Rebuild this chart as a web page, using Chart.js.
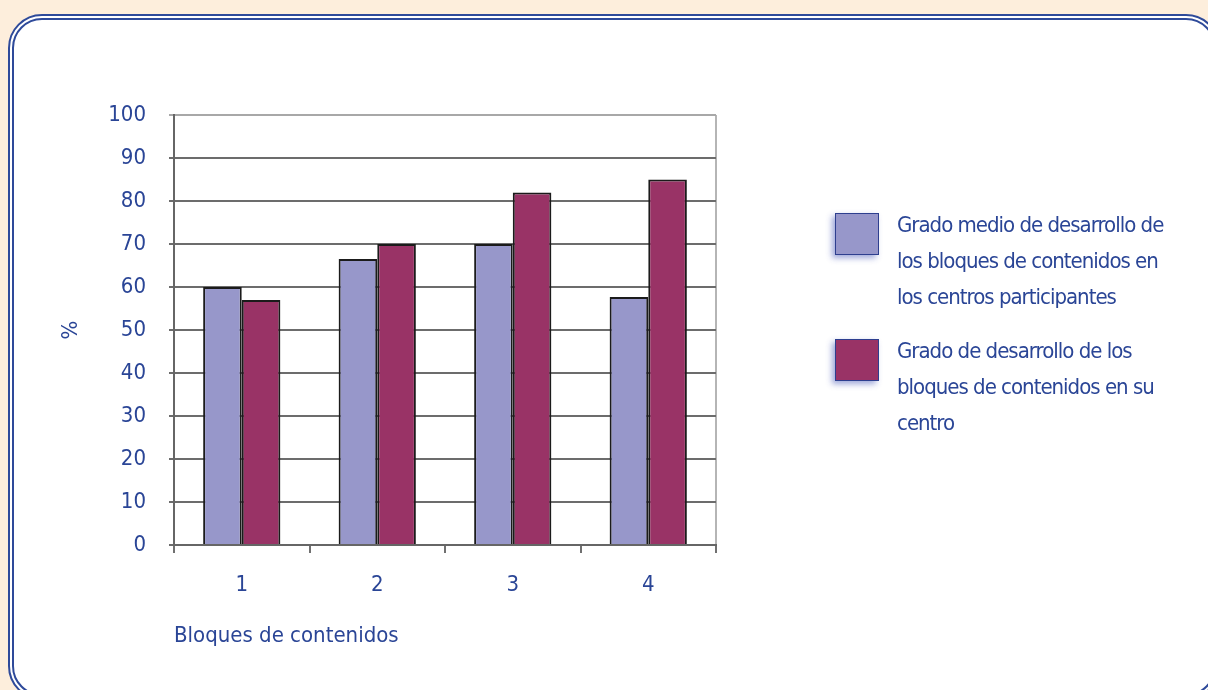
<!DOCTYPE html>
<html>
<head>
<meta charset="utf-8">
<script src="https://cdn.jsdelivr.net/npm/chart.js@4/dist/chart.umd.min.js"></script>
<style>
  html, body { margin: 0; padding: 0; }
  body { width: 1208px; height: 690px; background: #fdeedc; position: relative; overflow: hidden;
         font-family: 'DejaVu Sans Condensed', 'DejaVu Sans', sans-serif; }
  .frame { position: absolute; left: 8px; top: 14px; width: 1212px; height: 686px; box-sizing: border-box;
           background: #fff; border: 6px double #2e4a9a; border-radius: 34px; }
  #chart { position: absolute; left: 0; top: 0; }
  .legend { position: absolute; left: 835px; top: 207px; width: 360px; color: #2a4596; font-size: 22px;
            line-height: 36px; letter-spacing: -1px; white-space: nowrap; }
  .item { position: relative; padding-left: 62px; margin-bottom: 18px; }
  .swatch { position: absolute; left: 0; top: 6px; width: 44px; height: 42px; box-sizing: border-box;
            border: 1px solid #2e3f8f; box-shadow: -3px 3px 6px rgba(40, 60, 170, 0.45); }
</style>
</head>
<body>
<div class="frame"></div>
<canvas id="chart" width="1208" height="690"></canvas>
<div class="legend" id="legend"></div>
<script>
// categories and values
const bloques = ['1', '2', '3', '4'];
const gradoMedio = [60, 66.5, 70, 57.7];
const gradoCentro = [57, 70, 82, 85];
// legend names, split the way the picture wraps them
const nombreMedio = ['Grado medio de desarrollo de', 'los bloques de contenidos en', 'los centros participantes'];
const nombreCentro = ['Grado de desarrollo de los', 'bloques de contenidos en su', 'centro'];
const colorMedio = '#9797ca';
const colorCentro = '#993366';

const textColor = '#2a4596';
const font = { family: "'DejaVu Sans Condensed', 'DejaVu Sans', sans-serif", size: 22 };

document.addEventListener('DOMContentLoaded', function () {
    const ctx = document.getElementById('chart').getContext('2d');

    const chart = new Chart(ctx, {
        type: 'bar',
        data: {
            labels: bloques,
            datasets: [{
                label: nombreMedio.join(' '),
                data: gradoMedio,
                backgroundColor: colorMedio,
                borderColor: '#1b1b1b',
                borderWidth: 2
            }, {
                label: nombreCentro.join(' '),
                data: gradoCentro,
                backgroundColor: colorCentro,
                borderColor: '#1b1b1b',
                borderWidth: 2
            }]
        },
        options: {
            responsive: false,
            animation: false,
            categoryPercentage: 0.57,
            barPercentage: 1,
            layout: { padding: { left: 54, top: 115, right: 492, bottom: 37 } },
            plugins: {
                legend: { display: false },
                tooltip: { enabled: false }
            },
            scales: {
                x: {
                    afterFit: function (scale) { scale.height = 108; },
                    grid: {
                        offset: true,
                        drawOnChartArea: true,
                        tickLength: 8,
                        lineWidth: 2,
                        color: function (c) { return c.type === 'tick' ? 'rgba(0,0,0,0)' : '#b5b5b5'; },
                        tickColor: '#707070'
                    },
                    border: { color: '#666666', width: 2 },
                    ticks: { color: textColor, font: font, padding: 19 },
                    title: {
                        display: true,
                        text: 'Bloques de contenidos',
                        align: 'start',
                        color: textColor,
                        font: font
                    }
                },
                y: {
                    min: 0,
                    max: 100,
                    afterFit: function (scale) { scale.width = 120; },
                    grid: {
                        tickLength: 5,
                        lineWidth: 2,
                        color: function (c) { return c.tick && c.tick.value === 100 ? '#a8a8a8' : '#6c6c6c'; }
                    },
                    border: { color: '#666666', width: 2 },
                    ticks: { stepSize: 10, color: textColor, font: font, padding: 23 },
                    title: {
                        display: true,
                        text: '%',
                        color: textColor,
                        font: font
                    }
                }
            }
        }
    });

    // legend with the wrapped names, one entry per dataset
    const legend = document.getElementById('legend');
    [nombreMedio, nombreCentro].forEach(function (lines, i) {
        const item = document.createElement('div');
        item.className = 'item';
        const sw = document.createElement('span');
        sw.className = 'swatch';
        sw.style.background = chart.data.datasets[i].backgroundColor;
        item.appendChild(sw);
        lines.forEach(function (line, j) {
            if (j > 0) item.appendChild(document.createElement('br'));
            item.appendChild(document.createTextNode(line));
        });
        legend.appendChild(item);
    });
});
</script>
</body>
</html>
